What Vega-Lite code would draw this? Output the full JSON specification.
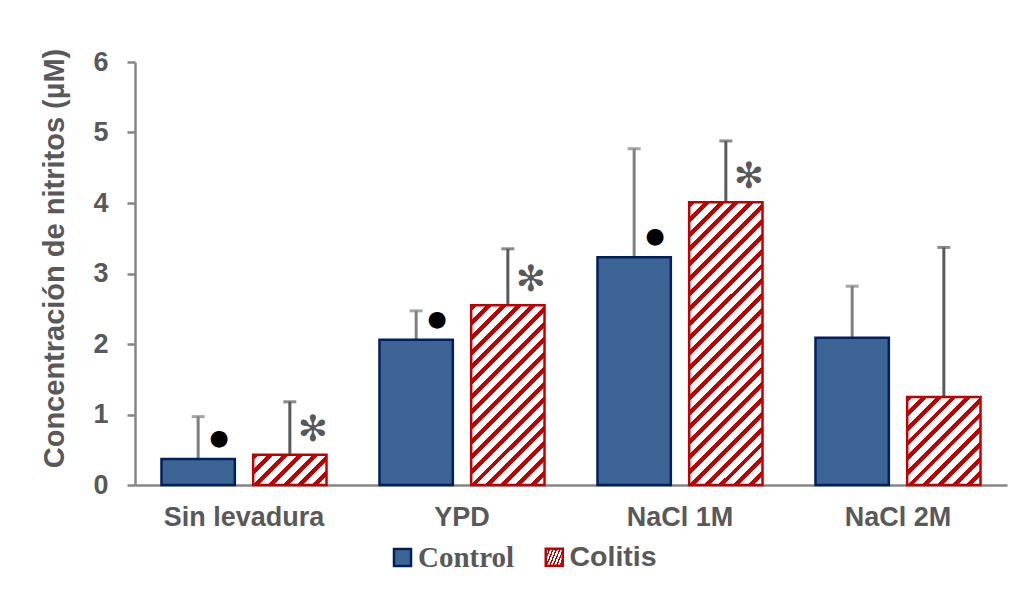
{
  "$schema": "https://vega.github.io/schema/vega-lite/v6.json",
  "width": 872,
  "height": 423,
  "autosize": {"type": "none"},
  "padding": {"left": 135, "top": 62, "right": 15, "bottom": 107},
  "background": "white",
  "config": {"view": {"stroke": null}, "font": "Liberation Sans"},
  "resolve": {"scale": {"stroke": "independent"}, "legend": {"stroke": "independent"}},
  "data": {"values": [
    {"cat": "Sin levadura", "group": "Control", "value": 0.37, "upper": 0.97, "sig": "●"},
    {"cat": "Sin levadura", "group": "Colitis", "value": 0.43, "upper": 1.18, "sig": "✻"},
    {"cat": "YPD", "group": "Control", "value": 2.06, "upper": 2.47, "sig": "●"},
    {"cat": "YPD", "group": "Colitis", "value": 2.55, "upper": 3.35, "sig": "✻"},
    {"cat": "NaCl 1M", "group": "Control", "value": 3.23, "upper": 4.77, "sig": "●"},
    {"cat": "NaCl 1M", "group": "Colitis", "value": 4.01, "upper": 4.88, "sig": "✻"},
    {"cat": "NaCl 2M", "group": "Control", "value": 2.09, "upper": 2.82, "sig": ""},
    {"cat": "NaCl 2M", "group": "Colitis", "value": 1.25, "upper": 3.37, "sig": ""}
  ]},
  "encoding": {
    "x": {
      "field": "cat", "type": "nominal",
      "sort": ["Sin levadura", "YPD", "NaCl 1M", "NaCl 2M"],
      "scale": {"paddingInner": 0.243, "paddingOuter": 0.1215},
      "axis": {"title": null, "labelAngle": 0, "ticks": false, "labelFont": "Liberation Sans", "labelFontSize": 27, "labelFontWeight": "bold", "labelColor": "#595959", "labelPadding": 19, "domainColor": "#868686", "domainWidth": 2.5}
    },
    "xOffset": {"field": "group", "type": "nominal", "scale": {"domain": ["Control", "Colitis"], "paddingInner": 0.2, "paddingOuter": 0}},
    "y": {
      "field": "value", "type": "quantitative",
      "scale": {"domain": [0, 6], "nice": false},
      "axis": {"title": "Concentración de nitritos (µM)", "values": [0, 1, 2, 3, 4, 5, 6], "format": "d", "grid": false,
        "labelFont": "Liberation Sans", "labelFontSize": 27, "labelFontWeight": "bold", "labelColor": "#595959", "labelPadding": 19,
        "tickSize": 8, "tickWidth": 2.5, "tickColor": "#868686", "domainColor": "#868686", "domainWidth": 2.5,
        "titleFont": "Liberation Sans", "titleFontSize": 29, "titleFontWeight": "bold", "titleColor": "#595959",
        "titleX": -81, "titleY": 196, "titleAngle": -90, "titleAlign": "center", "titleBaseline": "middle"}
    }
  },
  "layer": [
    {
      "mark": {"type": "rule", "strokeWidth": 3},
      "encoding": {
        "y2": {"field": "upper"},
        "color": {"condition": {"test": "datum.group === 'Control'", "value": "#808080"}, "value": "#5A5A5A"}
      }
    },
    {
      "mark": {"type": "tick", "thickness": 3, "size": 13, "orient": "horizontal"},
      "encoding": {
        "y": {"field": "upper", "type": "quantitative"},
        "color": {"condition": {"test": "datum.group === 'Control'", "value": "#808080"}, "value": "#5A5A5A"}
      }
    },
    {
      "transform": [{"filter": "datum.group === 'Control'"}],
      "mark": {"type": "bar", "fill": "#3C6494", "strokeWidth": 2.5},
      "encoding": {
        "stroke": {
          "field": "group", "type": "nominal",
          "scale": {"domain": ["Control"], "range": ["#002060"]},
          "legend": {
            "title": null, "orient": "none", "legendX": 253, "legendY": 481,
            "symbolType": "square", "symbolSize": 289, "symbolStrokeWidth": 2.5, "symbolFillColor": "#3C6494", "symbolOpacity": 1,
            "labelFont": "Liberation Serif", "labelFontSize": 29, "labelFontWeight": "bold", "labelColor": "#595959", "labelOffset": 1, "padding": 0,
            "encode": {"symbols": {"fill": {"value": "#3C6494"}, "strokeWidth": {"value": 2.5}}}
          }
        }
      }
    },
    {
      "transform": [{"filter": "datum.group === 'Colitis' && datum.cat === 'Sin levadura'"}],
      "mark": {"type": "bar", "strokeWidth": 2.5,
        "fill": {"gradient": "linear", "x1": 0, "y1": 0, "x2": 1.2071, "y2": 0.499, "stops": [
          {"offset": 0, "color": "#C00000"}, {"offset": 0.0571, "color": "#C00000"}, {"offset": 0.0571, "color": "#FFFFFF"}, {"offset": 0.1429, "color": "#FFFFFF"},
          {"offset": 0.1429, "color": "#C00000"}, {"offset": 0.2, "color": "#C00000"}, {"offset": 0.2, "color": "#FFFFFF"}, {"offset": 0.2857, "color": "#FFFFFF"},
          {"offset": 0.2857, "color": "#C00000"}, {"offset": 0.3429, "color": "#C00000"}, {"offset": 0.3429, "color": "#FFFFFF"}, {"offset": 0.4286, "color": "#FFFFFF"},
          {"offset": 0.4286, "color": "#C00000"}, {"offset": 0.4857, "color": "#C00000"}, {"offset": 0.4857, "color": "#FFFFFF"}, {"offset": 0.5714, "color": "#FFFFFF"},
          {"offset": 0.5714, "color": "#C00000"}, {"offset": 0.6286, "color": "#C00000"}, {"offset": 0.6286, "color": "#FFFFFF"}, {"offset": 0.7143, "color": "#FFFFFF"},
          {"offset": 0.7143, "color": "#C00000"}, {"offset": 0.7714, "color": "#C00000"}, {"offset": 0.7714, "color": "#FFFFFF"}, {"offset": 0.8571, "color": "#FFFFFF"},
          {"offset": 0.8571, "color": "#C00000"}, {"offset": 0.9143, "color": "#C00000"}, {"offset": 0.9143, "color": "#FFFFFF"}, {"offset": 1, "color": "#FFFFFF"}]}},
      "encoding": {
        "stroke": {
          "field": "group", "type": "nominal",
          "scale": {"domain": ["Colitis"], "range": ["#C00000"]},
          "legend": {
            "title": null, "orient": "none", "legendX": 405, "legendY": 481,
            "symbolType": "square", "symbolSize": 289, "symbolStrokeWidth": 2.5, "symbolOpacity": 1,
            "labelFont": "Liberation Sans", "labelFontSize": 28.5, "labelFontWeight": "bold", "labelColor": "#595959", "labelOffset": 1, "padding": 0,
            "encode": {"symbols": {
              "fill": {"value": {"gradient": "linear", "x1": 0, "y1": 0, "x2": 1, "y2": 1, "stops": [
                {"offset": 0, "color": "#C00000"}, {"offset": 0.25, "color": "#C00000"}, {"offset": 0.25, "color": "#FFFFFF"}, {"offset": 0.45, "color": "#FFFFFF"},
                {"offset": 0.45, "color": "#C00000"}, {"offset": 0.6, "color": "#C00000"}, {"offset": 0.6, "color": "#FFFFFF"}, {"offset": 0.85, "color": "#FFFFFF"},
                {"offset": 0.85, "color": "#C00000"}, {"offset": 1, "color": "#C00000"}]}},
              "strokeWidth": {"value": 2.5}
            }}
          }
        }
      }
    },
    {
      "transform": [{"filter": "datum.group === 'Colitis' && datum.cat === 'YPD'"}],
      "mark": {"type": "bar", "stroke": "#C00000", "strokeWidth": 2.5,
        "fill": {"gradient": "linear", "x1": 0, "y1": 0, "x2": 0.4921, "y2": 1.207, "stops": [
          {"offset": 0, "color": "#C00000"}, {"offset": 0.0235, "color": "#C00000"}, {"offset": 0.0235, "color": "#FFFFFF"}, {"offset": 0.0588, "color": "#FFFFFF"},
          {"offset": 0.0588, "color": "#C00000"}, {"offset": 0.0824, "color": "#C00000"}, {"offset": 0.0824, "color": "#FFFFFF"}, {"offset": 0.1176, "color": "#FFFFFF"},
          {"offset": 0.1176, "color": "#C00000"}, {"offset": 0.1412, "color": "#C00000"}, {"offset": 0.1412, "color": "#FFFFFF"}, {"offset": 0.1765, "color": "#FFFFFF"},
          {"offset": 0.1765, "color": "#C00000"}, {"offset": 0.2, "color": "#C00000"}, {"offset": 0.2, "color": "#FFFFFF"}, {"offset": 0.2353, "color": "#FFFFFF"},
          {"offset": 0.2353, "color": "#C00000"}, {"offset": 0.2588, "color": "#C00000"}, {"offset": 0.2588, "color": "#FFFFFF"}, {"offset": 0.2941, "color": "#FFFFFF"},
          {"offset": 0.2941, "color": "#C00000"}, {"offset": 0.3176, "color": "#C00000"}, {"offset": 0.3176, "color": "#FFFFFF"}, {"offset": 0.3529, "color": "#FFFFFF"},
          {"offset": 0.3529, "color": "#C00000"}, {"offset": 0.3765, "color": "#C00000"}, {"offset": 0.3765, "color": "#FFFFFF"}, {"offset": 0.4118, "color": "#FFFFFF"},
          {"offset": 0.4118, "color": "#C00000"}, {"offset": 0.4353, "color": "#C00000"}, {"offset": 0.4353, "color": "#FFFFFF"}, {"offset": 0.4706, "color": "#FFFFFF"},
          {"offset": 0.4706, "color": "#C00000"}, {"offset": 0.4941, "color": "#C00000"}, {"offset": 0.4941, "color": "#FFFFFF"}, {"offset": 0.5294, "color": "#FFFFFF"},
          {"offset": 0.5294, "color": "#C00000"}, {"offset": 0.5529, "color": "#C00000"}, {"offset": 0.5529, "color": "#FFFFFF"}, {"offset": 0.5882, "color": "#FFFFFF"},
          {"offset": 0.5882, "color": "#C00000"}, {"offset": 0.6118, "color": "#C00000"}, {"offset": 0.6118, "color": "#FFFFFF"}, {"offset": 0.6471, "color": "#FFFFFF"},
          {"offset": 0.6471, "color": "#C00000"}, {"offset": 0.6706, "color": "#C00000"}, {"offset": 0.6706, "color": "#FFFFFF"}, {"offset": 0.7059, "color": "#FFFFFF"},
          {"offset": 0.7059, "color": "#C00000"}, {"offset": 0.7294, "color": "#C00000"}, {"offset": 0.7294, "color": "#FFFFFF"}, {"offset": 0.7647, "color": "#FFFFFF"},
          {"offset": 0.7647, "color": "#C00000"}, {"offset": 0.7882, "color": "#C00000"}, {"offset": 0.7882, "color": "#FFFFFF"}, {"offset": 0.8235, "color": "#FFFFFF"},
          {"offset": 0.8235, "color": "#C00000"}, {"offset": 0.8471, "color": "#C00000"}, {"offset": 0.8471, "color": "#FFFFFF"}, {"offset": 0.8824, "color": "#FFFFFF"},
          {"offset": 0.8824, "color": "#C00000"}, {"offset": 0.9059, "color": "#C00000"}, {"offset": 0.9059, "color": "#FFFFFF"}, {"offset": 0.9412, "color": "#FFFFFF"},
          {"offset": 0.9412, "color": "#C00000"}, {"offset": 0.9647, "color": "#C00000"}, {"offset": 0.9647, "color": "#FFFFFF"}, {"offset": 1, "color": "#FFFFFF"}]}},
      "encoding": {}
    },
    {
      "transform": [{"filter": "datum.group === 'Colitis' && datum.cat === 'NaCl 1M'"}],
      "mark": {"type": "bar", "stroke": "#C00000", "strokeWidth": 2.5,
        "fill": {"gradient": "linear", "x1": 0, "y1": 0, "x2": 0.3059, "y2": 1.18, "stops": [
          {"offset": 0, "color": "#C00000"}, {"offset": 0.0167, "color": "#C00000"}, {"offset": 0.0167, "color": "#FFFFFF"}, {"offset": 0.0417, "color": "#FFFFFF"},
          {"offset": 0.0417, "color": "#C00000"}, {"offset": 0.0583, "color": "#C00000"}, {"offset": 0.0583, "color": "#FFFFFF"}, {"offset": 0.0833, "color": "#FFFFFF"},
          {"offset": 0.0833, "color": "#C00000"}, {"offset": 0.1, "color": "#C00000"}, {"offset": 0.1, "color": "#FFFFFF"}, {"offset": 0.125, "color": "#FFFFFF"},
          {"offset": 0.125, "color": "#C00000"}, {"offset": 0.1417, "color": "#C00000"}, {"offset": 0.1417, "color": "#FFFFFF"}, {"offset": 0.1667, "color": "#FFFFFF"},
          {"offset": 0.1667, "color": "#C00000"}, {"offset": 0.1833, "color": "#C00000"}, {"offset": 0.1833, "color": "#FFFFFF"}, {"offset": 0.2083, "color": "#FFFFFF"},
          {"offset": 0.2083, "color": "#C00000"}, {"offset": 0.225, "color": "#C00000"}, {"offset": 0.225, "color": "#FFFFFF"}, {"offset": 0.25, "color": "#FFFFFF"},
          {"offset": 0.25, "color": "#C00000"}, {"offset": 0.2667, "color": "#C00000"}, {"offset": 0.2667, "color": "#FFFFFF"}, {"offset": 0.2917, "color": "#FFFFFF"},
          {"offset": 0.2917, "color": "#C00000"}, {"offset": 0.3083, "color": "#C00000"}, {"offset": 0.3083, "color": "#FFFFFF"}, {"offset": 0.3333, "color": "#FFFFFF"},
          {"offset": 0.3333, "color": "#C00000"}, {"offset": 0.35, "color": "#C00000"}, {"offset": 0.35, "color": "#FFFFFF"}, {"offset": 0.375, "color": "#FFFFFF"},
          {"offset": 0.375, "color": "#C00000"}, {"offset": 0.3917, "color": "#C00000"}, {"offset": 0.3917, "color": "#FFFFFF"}, {"offset": 0.4167, "color": "#FFFFFF"},
          {"offset": 0.4167, "color": "#C00000"}, {"offset": 0.4333, "color": "#C00000"}, {"offset": 0.4333, "color": "#FFFFFF"}, {"offset": 0.4583, "color": "#FFFFFF"},
          {"offset": 0.4583, "color": "#C00000"}, {"offset": 0.475, "color": "#C00000"}, {"offset": 0.475, "color": "#FFFFFF"}, {"offset": 0.5, "color": "#FFFFFF"},
          {"offset": 0.5, "color": "#C00000"}, {"offset": 0.5167, "color": "#C00000"}, {"offset": 0.5167, "color": "#FFFFFF"}, {"offset": 0.5417, "color": "#FFFFFF"},
          {"offset": 0.5417, "color": "#C00000"}, {"offset": 0.5583, "color": "#C00000"}, {"offset": 0.5583, "color": "#FFFFFF"}, {"offset": 0.5833, "color": "#FFFFFF"},
          {"offset": 0.5833, "color": "#C00000"}, {"offset": 0.6, "color": "#C00000"}, {"offset": 0.6, "color": "#FFFFFF"}, {"offset": 0.625, "color": "#FFFFFF"},
          {"offset": 0.625, "color": "#C00000"}, {"offset": 0.6417, "color": "#C00000"}, {"offset": 0.6417, "color": "#FFFFFF"}, {"offset": 0.6667, "color": "#FFFFFF"},
          {"offset": 0.6667, "color": "#C00000"}, {"offset": 0.6833, "color": "#C00000"}, {"offset": 0.6833, "color": "#FFFFFF"}, {"offset": 0.7083, "color": "#FFFFFF"},
          {"offset": 0.7083, "color": "#C00000"}, {"offset": 0.725, "color": "#C00000"}, {"offset": 0.725, "color": "#FFFFFF"}, {"offset": 0.75, "color": "#FFFFFF"},
          {"offset": 0.75, "color": "#C00000"}, {"offset": 0.7667, "color": "#C00000"}, {"offset": 0.7667, "color": "#FFFFFF"}, {"offset": 0.7917, "color": "#FFFFFF"},
          {"offset": 0.7917, "color": "#C00000"}, {"offset": 0.8083, "color": "#C00000"}, {"offset": 0.8083, "color": "#FFFFFF"}, {"offset": 0.8333, "color": "#FFFFFF"},
          {"offset": 0.8333, "color": "#C00000"}, {"offset": 0.85, "color": "#C00000"}, {"offset": 0.85, "color": "#FFFFFF"}, {"offset": 0.875, "color": "#FFFFFF"},
          {"offset": 0.875, "color": "#C00000"}, {"offset": 0.8917, "color": "#C00000"}, {"offset": 0.8917, "color": "#FFFFFF"}, {"offset": 0.9167, "color": "#FFFFFF"},
          {"offset": 0.9167, "color": "#C00000"}, {"offset": 0.9333, "color": "#C00000"}, {"offset": 0.9333, "color": "#FFFFFF"}, {"offset": 0.9583, "color": "#FFFFFF"},
          {"offset": 0.9583, "color": "#C00000"}, {"offset": 0.975, "color": "#C00000"}, {"offset": 0.975, "color": "#FFFFFF"}, {"offset": 1, "color": "#FFFFFF"}]}},
      "encoding": {}
    },
    {
      "transform": [{"filter": "datum.group === 'Colitis' && datum.cat === 'NaCl 2M'"}],
      "mark": {"type": "bar", "stroke": "#C00000", "strokeWidth": 2.5,
        "fill": {"gradient": "linear", "x1": 0, "y1": 0, "x2": 0.9007, "y2": 1.0826, "stops": [
          {"offset": 0, "color": "#C00000"}, {"offset": 0.0364, "color": "#C00000"}, {"offset": 0.0364, "color": "#FFFFFF"}, {"offset": 0.0909, "color": "#FFFFFF"},
          {"offset": 0.0909, "color": "#C00000"}, {"offset": 0.1273, "color": "#C00000"}, {"offset": 0.1273, "color": "#FFFFFF"}, {"offset": 0.1818, "color": "#FFFFFF"},
          {"offset": 0.1818, "color": "#C00000"}, {"offset": 0.2182, "color": "#C00000"}, {"offset": 0.2182, "color": "#FFFFFF"}, {"offset": 0.2727, "color": "#FFFFFF"},
          {"offset": 0.2727, "color": "#C00000"}, {"offset": 0.3091, "color": "#C00000"}, {"offset": 0.3091, "color": "#FFFFFF"}, {"offset": 0.3636, "color": "#FFFFFF"},
          {"offset": 0.3636, "color": "#C00000"}, {"offset": 0.4, "color": "#C00000"}, {"offset": 0.4, "color": "#FFFFFF"}, {"offset": 0.4545, "color": "#FFFFFF"},
          {"offset": 0.4545, "color": "#C00000"}, {"offset": 0.4909, "color": "#C00000"}, {"offset": 0.4909, "color": "#FFFFFF"}, {"offset": 0.5455, "color": "#FFFFFF"},
          {"offset": 0.5455, "color": "#C00000"}, {"offset": 0.5818, "color": "#C00000"}, {"offset": 0.5818, "color": "#FFFFFF"}, {"offset": 0.6364, "color": "#FFFFFF"},
          {"offset": 0.6364, "color": "#C00000"}, {"offset": 0.6727, "color": "#C00000"}, {"offset": 0.6727, "color": "#FFFFFF"}, {"offset": 0.7273, "color": "#FFFFFF"},
          {"offset": 0.7273, "color": "#C00000"}, {"offset": 0.7636, "color": "#C00000"}, {"offset": 0.7636, "color": "#FFFFFF"}, {"offset": 0.8182, "color": "#FFFFFF"},
          {"offset": 0.8182, "color": "#C00000"}, {"offset": 0.8545, "color": "#C00000"}, {"offset": 0.8545, "color": "#FFFFFF"}, {"offset": 0.9091, "color": "#FFFFFF"},
          {"offset": 0.9091, "color": "#C00000"}, {"offset": 0.9455, "color": "#C00000"}, {"offset": 0.9455, "color": "#FFFFFF"}, {"offset": 1, "color": "#FFFFFF"}]}},
      "encoding": {}
    },
    {
      "transform": [{"filter": "datum.group === 'Control' && datum.sig !== ''"}],
      "mark": {"type": "text", "font": "DejaVu Sans", "fontSize": 22, "color": "#000000", "dx": 21, "dy": -21, "align": "center", "baseline": "middle"},
      "encoding": {"text": {"field": "sig"}}
    },
    {
      "transform": [{"filter": "datum.group === 'Colitis' && datum.sig !== ''"}],
      "mark": {"type": "text", "font": "DejaVu Sans", "fontSize": 36, "color": "#595959", "dx": 23, "dy": -25, "align": "center", "baseline": "middle"},
      "encoding": {"text": {"field": "sig"}}
    }
  ]
}
